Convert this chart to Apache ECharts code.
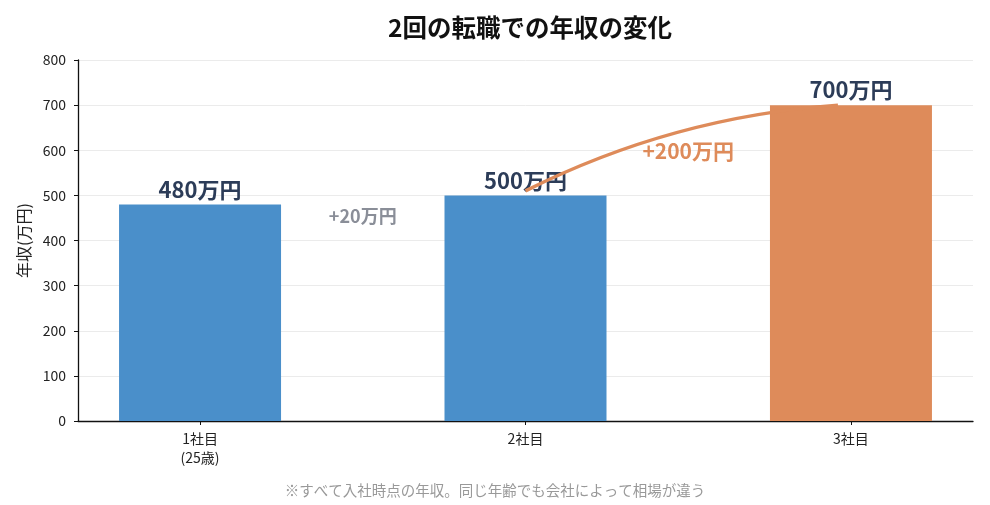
<!DOCTYPE html>
<html>
<head>
<meta charset="utf-8">
<script src="https://cdn.jsdelivr.net/npm/echarts@6/dist/echarts.min.js"></script>
<style>
  html, body { margin: 0; padding: 0; background: #fff; }
  #chart { width: 990px; height: 505px; }
</style>
</head>
<body>
<div id="chart"></div>
<script>
// 2回の転職での年収の変化
var categories = ['1社目\n(25歳)', '2社目', '3社目'];
var salaries = [480, 500, 700];            // 万円
var yTicks = [0, 100, 200, 300, 400, 500, 600, 700, 800];
var diffLabels = ['+20万円', '+200万円'];
var diffPos = [[0.5, 454], [1.5, 598]];    // 注釈の位置（データ座標）
var arcFrom = [1, 510], arcTo = [1.96, 700];

var FONT = '"Noto Sans CJK JP", "Noto Sans", sans-serif';
var BLUE = '#4a8fca', ORANGE = '#de8b5a', NAVY = '#2c3c58';

var chart = echarts.init(document.getElementById('chart'));

var barData = salaries.map(function (v, i) {
    return {
        value: [i, v],
        itemStyle: { color: i === salaries.length - 1 ? ORANGE : BLUE }
    };
});

var option = {
    backgroundColor: '#fff',
    textStyle: { fontFamily: FONT },
    title: {
        text: '2回の転職での年収の変化',
        left: 525,
        textAlign: 'center',
        top: 10,
        textStyle: { fontSize: 24.5, fontWeight: 'bold', color: '#111', fontFamily: FONT }
    },
    grid: { left: 78, right: 17, top: 60, bottom: 84 },
    xAxis: {
        type: 'value',
        min: -0.375,
        max: 2.375,
        splitLine: { show: false },
        axisLine: { show: true, onZero: false, lineStyle: { color: '#111', width: 1.3 } },
        axisTick: { show: true, customValues: [0, 1, 2], length: 4, lineStyle: { color: '#111' } },
        axisLabel: {
            customValues: [0, 1, 2],
            formatter: function (v) { return categories[Math.round(v)]; },
            fontSize: 14,
            lineHeight: 19,
            color: '#222',
            margin: 8
        }
    },
    yAxis: {
        type: 'value',
        min: yTicks[0],
        max: yTicks[yTicks.length - 1],
        interval: 100,
        name: '年収(万円)',
        nameLocation: 'middle',
        nameGap: 46,
        nameTextStyle: { fontSize: 16, color: '#222' },
        axisLine: { show: true, onZero: false, lineStyle: { color: '#111', width: 1.3 } },
        axisTick: { show: true, length: 4, lineStyle: { color: '#111' } },
        axisLabel: { fontSize: 14, color: '#222', margin: 12 },
        splitLine: { show: true, lineStyle: { color: '#ebebeb', width: 1 } }
    },
    series: [
        {
            type: 'bar',
            data: barData,
            barWidth: 162,
            z: 2,
            label: {
                show: true,
                position: 'top',
                distance: 4,
                fontSize: 22,
                fontWeight: 'bold',
                color: NAVY,
                formatter: function (p) { return p.value[1] + '万円'; }
            },
            markPoint: {
                silent: true,
                symbol: 'circle',
                symbolSize: 0,
                data: [
                    {
                        coord: diffPos[0],
                        label: {
                            show: true, formatter: diffLabels[0], position: 'inside',
                            fontSize: 18, fontWeight: 'bold', color: '#8a8e98'
                        }
                    },
                    {
                        coord: diffPos[1],
                        label: {
                            show: true, formatter: diffLabels[1], position: 'inside',
                            fontSize: 21, fontWeight: 'bold', color: ORANGE
                        }
                    }
                ]
            }
        },
        {
            // 2社目→3社目の上昇を示す曲線
            type: 'lines',
            coordinateSystem: 'cartesian2d',
            silent: true,
            z: 3,
            symbol: ['none', 'none'],
            lineStyle: { color: ORANGE, width: 3.5, opacity: 1, curveness: 0.1 },
            data: [{ coords: [arcFrom, arcTo] }]
        }
    ],
    graphic: [
        {
            type: 'text',
            left: 'center',
            top: 483,
            style: {
                text: '※すべて入社時点の年収。同じ年齢でも会社によって相場が違う',
                fontSize: 14.5,
                fill: '#999',
                fontFamily: FONT
            }
        }
    ]
};

chart.setOption(option);
</script>
</body>
</html>
